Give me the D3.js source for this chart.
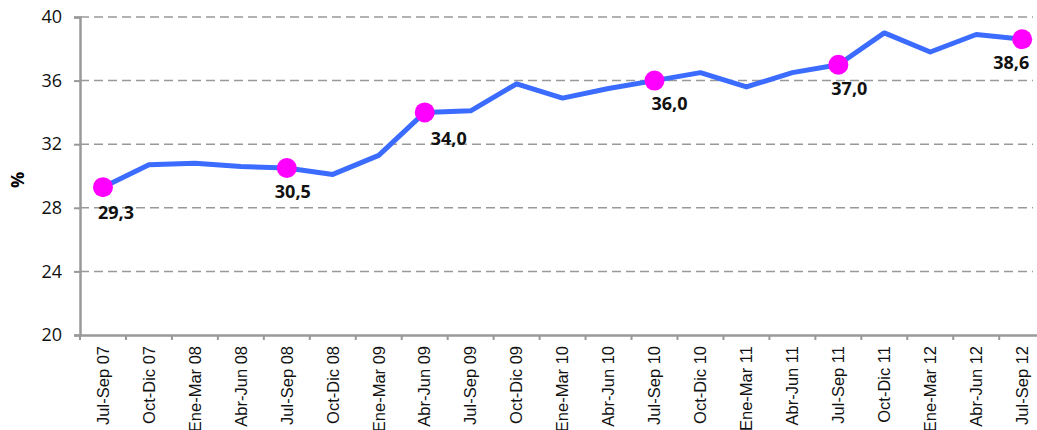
<!DOCTYPE html>
<html>
<head>
<meta charset="utf-8">
<script src="https://cdn.jsdelivr.net/npm/d3@7"></script>
<style>
  body { margin: 0; background: #fff; }
  svg { display: block; }
</style>
</head>
<body>
<svg id="chart" width="1037" height="430"></svg>
<script>
// quarters (Spanish labels as in the source)
const categories = ["Jul-Sep 07", "Oct-Dic 07", "Ene-Mar 08", "Abr-Jun 08", "Jul-Sep 08",
    "Oct-Dic 08", "Ene-Mar 09", "Abr-Jun 09", "Jul-Sep 09", "Oct-Dic 09", "Ene-Mar 10",
    "Abr-Jun 10", "Jul-Sep 10", "Oct-Dic 10", "Ene-Mar 11", "Abr-Jun 11", "Jul-Sep 11",
    "Oct-Dic 11", "Ene-Mar 12", "Abr-Jun 12", "Jul-Sep 12"];
const values = [29.3, 30.7, 30.8, 30.6, 30.5, 30.1, 31.3, 34.0, 34.1, 35.8, 34.9,
    35.5, 36.0, 36.5, 35.6, 36.5, 37.0, 39.0, 37.8, 38.9, 38.6];
// points that get a marker and a value label
const highlighted = [0, 4, 7, 12, 16, 20];
const yTicks = [20, 24, 28, 32, 36, 40];

// label placement relative to the marker
const labelOffsets = {0: [13, 32], 4: [6, 30], 7: [24, 33], 12: [15, 29], 16: [11, 30], 20: [-11, 30]};

const margin = {left: 80, top: 17, bottom: 335};
const svg = d3.select("#chart");

const x = d3.scaleBand().domain(categories).range([80, 80 + 21 * 45.96]);
const y = d3.scaleLinear().domain([20, 40]).range([margin.bottom, margin.top]);
const cx = d => x(d) + x.bandwidth() / 2;

// gridlines
svg.append("g")
    .selectAll("line")
    .data(yTicks.slice(1))
    .join("line")
    .attr("x1", 80).attr("x2", 1033)
    .attr("y1", d => y(d)).attr("y2", d => y(d))
    .attr("stroke", "#999").attr("stroke-width", 1.5)
    .attr("stroke-dasharray", "9,5");

// y axis
const yAxis = svg.append("g")
    .attr("transform", "translate(80,0)")
    .call(d3.axisLeft(y).tickValues(yTicks).tickSize(6).tickPadding(12));
yAxis.select(".domain").attr("stroke", "#999").attr("stroke-width", 2.5);
yAxis.selectAll(".tick line").attr("stroke", "#999").attr("stroke-width", 2);
yAxis.selectAll("text")
    .attr("font-family", "'Open Sans', sans-serif")
    .attr("font-size", 18).attr("fill", "#111");

// x axis
const xAxis = svg.append("g")
    .attr("transform", `translate(0,${margin.bottom})`)
    .call(d3.axisBottom(x).tickSize(0).tickPadding(0));
xAxis.select(".domain").attr("stroke", "#999").attr("stroke-width", 2.5);
xAxis.selectAll(".tick text")
    .attr("font-family", "'Liberation Sans', Arial, sans-serif")
    .attr("font-size", 16.5).attr("fill", "#111")
    .attr("text-anchor", "end")
    .attr("transform", "rotate(-90)")
    .attr("x", -11).attr("y", 0).attr("dy", "0.35em");
// category separators
svg.append("g")
    .selectAll("line")
    .data(d3.range(categories.length + 1))
    .join("line")
    .attr("x1", i => 80 + i * x.step()).attr("x2", i => 80 + i * x.step())
    .attr("y1", margin.bottom).attr("y2", margin.bottom + 5)
    .attr("stroke", "#999").attr("stroke-width", 2);

// y title
svg.append("text")
    .attr("transform", "translate(24,180) rotate(-90)")
    .attr("text-anchor", "middle")
    .attr("font-family", "'Open Sans', sans-serif")
    .attr("font-weight", "bold").attr("font-size", 18)
    .text("%");

// line
const line = d3.line()
    .x((d, i) => cx(categories[i]))
    .y(d => y(d));
svg.append("path")
    .datum(values)
    .attr("d", line)
    .attr("fill", "none")
    .attr("stroke", "#3B6CFF")
    .attr("stroke-width", 5)
    .attr("stroke-linejoin", "round");

// markers
svg.append("g")
    .selectAll("circle")
    .data(highlighted)
    .join("circle")
    .attr("cx", i => cx(categories[i]))
    .attr("cy", i => y(values[i]))
    .attr("r", 10)
    .attr("fill", "#FF00FF");

// value labels
svg.append("g")
    .selectAll("text")
    .data(highlighted)
    .join("text")
    .attr("x", i => cx(categories[i]) + labelOffsets[i][0])
    .attr("y", i => y(values[i]) + labelOffsets[i][1])
    .attr("text-anchor", "middle")
    .attr("font-family", "'Open Sans', sans-serif")
    .attr("font-weight", "bold").attr("font-size", 18)
    .attr("fill", "#111")
    .text(i => values[i].toFixed(1).replace(".", ","));
</script>
</body>
</html>
